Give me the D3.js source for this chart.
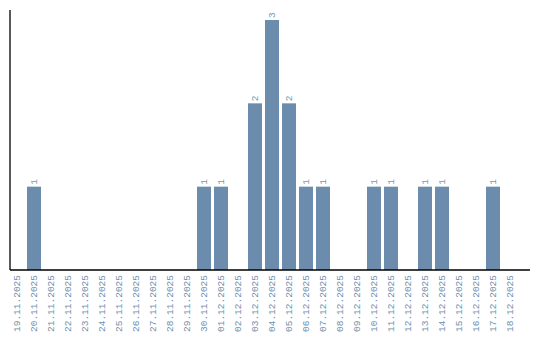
<!DOCTYPE html>
<html>
<head>
<meta charset="utf-8">
<script src="https://cdn.jsdelivr.net/npm/d3@7"></script>
<style>
  body { margin: 0; background: #fff; }
  svg { display: block; }
  text { font-family: "Liberation Mono", monospace; }
</style>
</head>
<body>
<div id="chart"></div>
<script>
const dates = [
    '19.11.2025', '20.11.2025', '21.11.2025', '22.11.2025', '23.11.2025',
    '24.11.2025', '25.11.2025', '26.11.2025', '27.11.2025', '28.11.2025',
    '29.11.2025', '30.11.2025', '01.12.2025', '02.12.2025', '03.12.2025',
    '04.12.2025', '05.12.2025', '06.12.2025', '07.12.2025', '08.12.2025',
    '09.12.2025', '10.12.2025', '11.12.2025', '12.12.2025', '13.12.2025',
    '14.12.2025', '15.12.2025', '16.12.2025', '17.12.2025', '18.12.2025'
];
const counts = [
    0, 1, 0, 0, 0,
    0, 0, 0, 0, 0,
    0, 1, 1, 0, 2,
    3, 2, 1, 1, 0,
    0, 1, 1, 0, 1,
    1, 0, 0, 1, 0
];

const width = 540, height = 340;
const left = 10, baseY = 270, topY = 10;
const barColor = "#6b8cad";

const svg = d3.select("#chart")
    .append("svg")
    .attr("width", width)
    .attr("height", height);

const x = d3.scaleBand()
    .domain(dates)
    .range([left, 517])
    .paddingInner(3 / 17)
    .paddingOuter(0);

const y = d3.scaleLinear()
    .domain([0, d3.max(counts) * 1.04])
    .range([baseY, topY]);

const rows = dates.map((d, i) => ({ date: d, value: counts[i] }));

// bars
svg.append("g")
    .selectAll("rect")
    .data(rows.filter(d => d.value > 0))
    .join("rect")
    .attr("x", d => x(d.date))
    .attr("y", d => y(d.value))
    .attr("width", x.bandwidth())
    .attr("height", d => y(0) - y(d.value))
    .attr("fill", barColor);

// value labels, rotated
svg.append("g")
    .selectAll("text")
    .data(rows.filter(d => d.value > 0))
    .join("text")
    .attr("transform", d => `translate(${x(d.date) + x.bandwidth() / 2 + 3},${y(d.value) - 2}) rotate(-90)`)
    .attr("text-anchor", "start")
    .attr("font-size", "9.5px")
    .attr("fill", "#7a94ae")
    .text(d => d.value);

// x tick labels
svg.append("g")
    .selectAll("text")
    .data(dates)
    .join("text")
    .attr("transform", d => `translate(${x(d) + x.bandwidth() / 2 + 3},${baseY + 5}) rotate(-90)`)
    .attr("text-anchor", "end")
    .attr("font-size", "9.5px")
    .attr("fill", "#6f8fae")
    .text(d => d);

// axis lines
svg.append("line")
    .attr("x1", left).attr("x2", 530)
    .attr("y1", baseY).attr("y2", baseY)
    .attr("stroke", "#000")
    .attr("stroke-width", 1.3);

svg.append("line")
    .attr("x1", left).attr("x2", left)
    .attr("y1", topY).attr("y2", baseY)
    .attr("stroke", "#000")
    .attr("stroke-width", 1.3);
</script>
</body>
</html>
